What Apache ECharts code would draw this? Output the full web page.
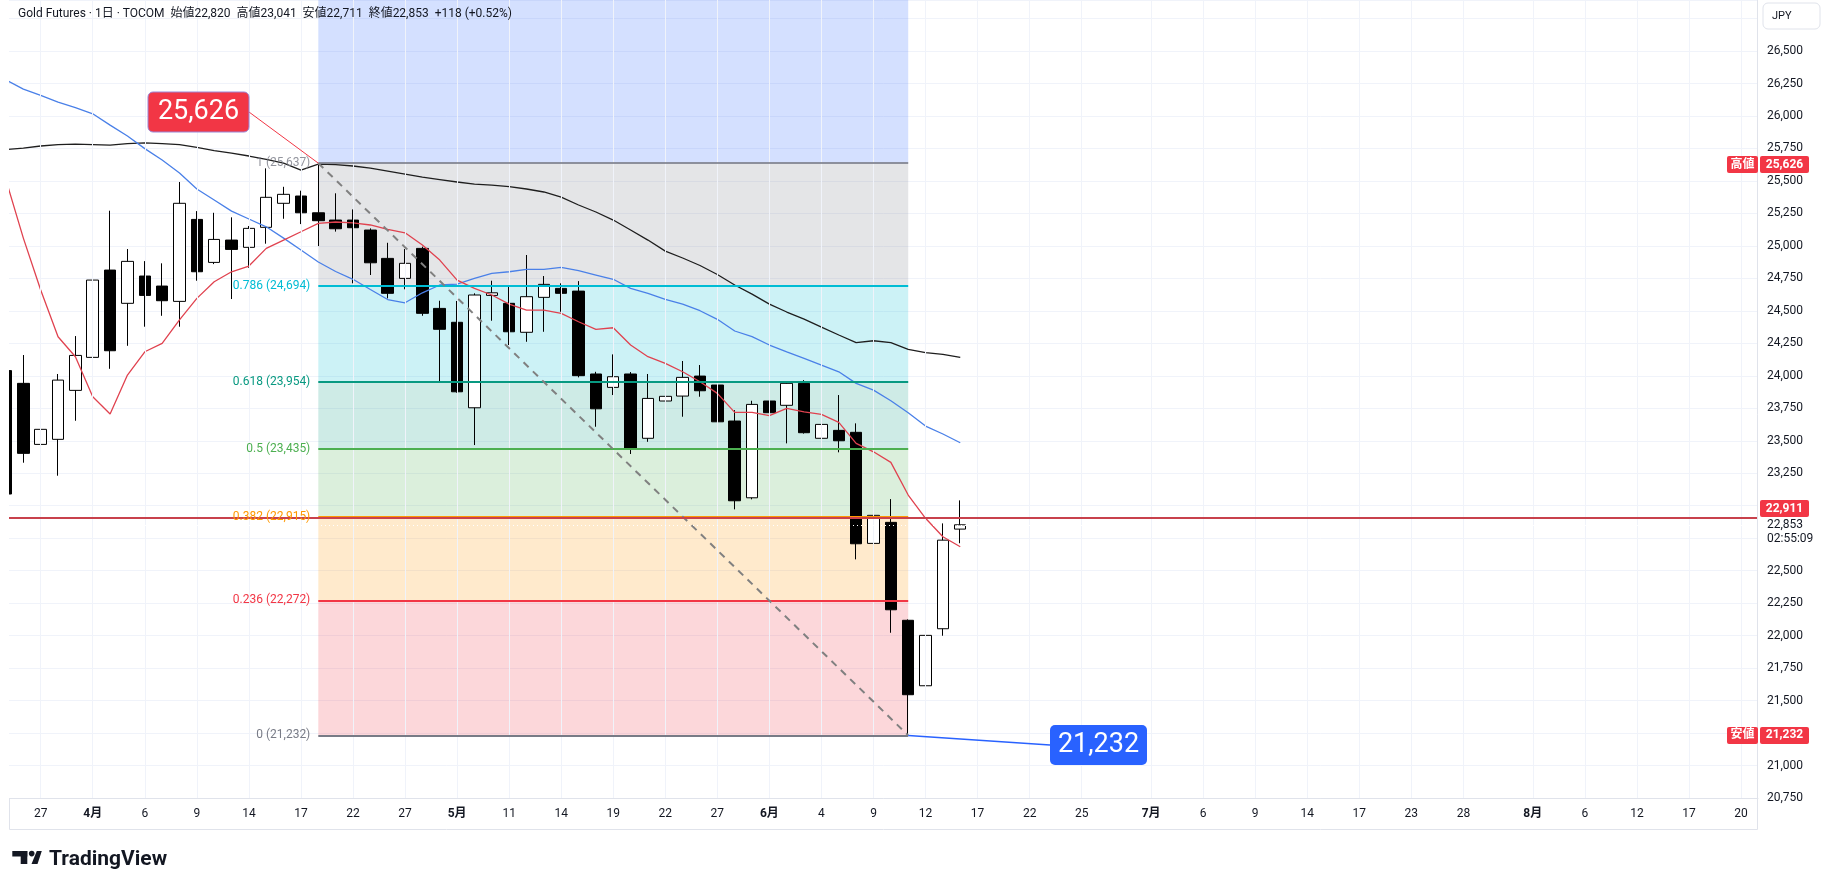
<!DOCTYPE html>
<html>
<head>
<meta charset="utf-8">
<title>Gold Futures</title>
<script src="https://cdn.jsdelivr.net/npm/echarts@6/dist/echarts.min.js"></script>
<style>
  html, body { margin: 0; padding: 0; background: #fff; }
  #main { width: 1828px; height: 889px; }
</style>
</head>
<body>
<div id="main"></div>
<script>
// x axis = trading day index (0 = 3/25)
const tickIdx  = [2, 5, 8, 11, 14, 17, 20, 23, 26, 29, 32, 35, 38, 41, 44, 47, 50, 53, 56, 59, 62, 66, 69, 72, 75, 78, 81, 84, 88, 91, 94, 97, 100];
const tickText = ['27', '4月', '6', '9', '14', '17', '22', '27', '5月', '11', '14', '19', '22', '27', '6月', '4', '9', '12', '17', '22', '25', '7月', '6', '9', '14', '17', '23', '28', '8月', '6', '12', '17', '20'];

const opens  = [24040, 23942, 23472, 23511, 23888, 24142, 24814, 24558, 24768, 24691, 24573, 25204, 24873, 25045, 24989, 25143, 25328, 25384, 25255, 25199, 25199, 25122, 24904, 24750, 24981, 24519, 24412, 23754, 24619, 24558, 24335, 24604, 24673, 24652, 24014, 23911, 24014, 23519, 23806, 23844, 23998, 23929, 23652, 23061, 23806, 23773, 23942, 23519, 23580, 23565, 22710, 22872, 22118, 21614, 22053, 22820];
const highs  = [24060, 24160, 23646, 24014, 24306, 24922, 25271, 24976, 24883, 24866, 25492, 25268, 25255, 25220, 25153, 25597, 25455, 25425, 25626, 25405, 25281, 25135, 25024, 24976, 24994, 24578, 24576, 24635, 24732, 24699, 24930, 24768, 24712, 24729, 24031, 24165, 24029, 24014, 23967, 24114, 24083, 23934, 23736, 23808, 24142, 23960, 23967, 23677, 23852, 23634, 22980, 23051, 22125, 22295, 22864, 23041];
const lows   = [23050, 23331, 23018, 23231, 23654, 23993, 24054, 24231, 24378, 24462, 24378, 24732, 24860, 24591, 24832, 25017, 25209, 25168, 24999, 25110, 24712, 24776, 24596, 24666, 24462, 23954, 23870, 23467, 24424, 24237, 24262, 24339, 24493, 23988, 23608, 23852, 23398, 23492, 23654, 23685, 23839, 23639, 22972, 23049, 23710, 23480, 23555, 23403, 23411, 22587, 22551, 22022, 21232, 21353, 21999, 22711];
const closes = [23090, 23403, 23588, 23967, 24157, 24737, 24193, 24881, 24619, 24578, 25328, 24801, 25050, 24973, 25135, 25374, 25397, 25255, 25194, 25132, 25140, 24870, 24635, 24866, 24481, 24358, 23877, 24622, 24639, 24339, 24609, 24704, 24635, 24001, 23746, 23993, 23438, 23826, 23842, 23988, 23885, 23646, 23038, 23780, 23716, 23942, 23562, 23626, 23500, 22707, 22926, 22199, 21545, 22002, 22735, 22853];

// moving averages (red short / blue mid / black long)
const maRed   = [25507, 25060, 24660, 24301, 24147, 23839, 23706, 24006, 24185, 24250, 24430, 24596, 24724, 24801, 24845, 24981, 25045, 25109, 25174, 25184, 25178, 25161, 25127, 25101, 25007, 24891, 24737, 24673, 24622, 24552, 24506, 24506, 24481, 24416, 24358, 24370, 24237, 24147, 24096, 24031, 23954, 23865, 23719, 23719, 23693, 23750, 23723, 23703, 23642, 23480, 23415, 23334, 23082, 22903, 22761, 22684];
const maBlue  = [26277, 26207, 26159, 26107, 26064, 26017, 25930, 25846, 25749, 25661, 25561, 25438, 25353, 25268, 25207, 25147, 25060, 24968, 24876, 24803, 24743, 24664, 24587, 24562, 24639, 24699, 24706, 24750, 24789, 24801, 24820, 24820, 24835, 24809, 24776, 24743, 24673, 24635, 24589, 24552, 24501, 24435, 24345, 24301, 24237, 24185, 24134, 24083, 24031, 23942, 23890, 23808, 23716, 23613, 23552, 23485];
const maBlack = [25741, 25753, 25769, 25780, 25784, 25780, 25776, 25788, 25793, 25788, 25780, 25759, 25734, 25715, 25692, 25666, 25638, 25584, 25630, 25626, 25615, 25599, 25576, 25553, 25530, 25511, 25492, 25476, 25468, 25457, 25438, 25415, 25376, 25315, 25261, 25199, 25122, 25045, 24960, 24907, 24849, 24780, 24699, 24629, 24552, 24491, 24437, 24375, 24314, 24256, 24270, 24255, 24204, 24178, 24165, 24142];

// fib retracement (drawn from 4/20 to 6/11)
const fibLevels = ['1', '0.786', '0.618', '0.5', '0.382', '0.236', '0'];
const fibPrices = [25637, 24694, 23954, 23435, 22915, 22272, 21232];
const fibLine   = ['#787b86', '#00bcd4', '#089981', '#4caf50', '#ff9800', '#f23645', '#787b86'];
const fibFill   = ['rgba(41,98,255,0.2)', 'rgba(120,123,134,0.2)', 'rgba(0,188,212,0.2)', 'rgba(8,153,129,0.2)',
                   'rgba(76,175,80,0.2)', 'rgba(255,152,0,0.2)', 'rgba(242,54,69,0.2)'];
const fibStart = 18, fibEnd = 52;

const hLinePrice = 22911;
const yMin = 20750, yMax = 26893;
const xMin = 0.173, xMax = 100.98;

const FONT = 'Roboto, "Noto Sans CJK JP", sans-serif';
const fmt = v => Math.round(v).toLocaleString('en-US');

const chart = echarts.init(document.getElementById('main'));

const ohlc = opens.map((o, i) => [i, o, closes[i], lows[i], highs[i]]);
const line = arr => arr.map((v, i) => [i, v]);

// fib fills
const fibAreas = [[
  { xAxis: fibStart, yAxis: yMax, itemStyle: { color: fibFill[0] } },
  { xAxis: fibEnd, yAxis: fibPrices[0] }
]];
for (let k = 0; k < fibPrices.length - 1; k++) {
  fibAreas.push([
    { xAxis: fibStart, yAxis: fibPrices[k], itemStyle: { color: fibFill[k + 1] } },
    { xAxis: fibEnd, yAxis: fibPrices[k + 1] }
  ]);
}
const fibLines = fibPrices.map((p, k) => [
  {
    coord: [fibStart, p],
    lineStyle: { color: fibLine[k], width: 2, type: 'solid', opacity: k === 0 ? 0.8 : 1 },
    label: { show: true, position: 'start', distance: 8, formatter: fibLevels[k] + ' (' + fmt(p) + ')',
             color: fibLine[k], fontSize: 12, fontFamily: FONT, opacity: k === 0 ? 0.8 : 1 }
  },
  { coord: [fibEnd, p] }
]);

const highest = Math.max(...highs);
const lowest = Math.min(...lows);
const lowIdx = lows.indexOf(lowest);

chart.setOption({
  animation: false,
  backgroundColor: '#ffffff',
  grid: { left: 9, right: 70, top: 0, bottom: 91 },
  xAxis: {
    type: 'value', min: xMin, max: xMax,
    axisLine: { show: true, lineStyle: { color: '#e0e3eb' } },
    axisTick: { show: false },
    splitLine: { show: false },
    axisLabel: {
      customValues: tickIdx,
      margin: 10,
      color: '#131722', fontSize: 12, fontFamily: FONT,
      formatter: v => {
        const t = tickText[tickIdx.indexOf(v)] || '';
        return t.indexOf('月') >= 0 ? '{b|' + t + '}' : t;
      },
      rich: { b: { fontWeight: 'bold', fontSize: 12, fontFamily: FONT, color: '#131722' } }
    }
  },
  yAxis: {
    type: 'value', position: 'right', min: yMin, max: yMax, interval: 250,
    axisLine: { show: false },
    axisTick: { show: false },
    splitLine: { lineStyle: { color: '#f0f3fa', width: 1 } },
    axisLabel: {
      margin: 9, color: '#131722', fontSize: 12, fontFamily: FONT,
      formatter: v => (v % 250 !== 0 || [26750, 23000, 22750, 21250].includes(v)) ? '' : fmt(v)
    }
  },
  series: [
    { // vertical grid lines
      type: 'line', data: [], silent: true, z: 0,
      markLine: {
        silent: true, symbol: ['none', 'none'], label: { show: false },
        lineStyle: { color: '#f0f3fa', width: 1, type: 'solid' },
        data: tickIdx.map(i => ({ xAxis: i }))
      }
    },
    { // fib retracement
      type: 'line', data: [], silent: true, z: 1,
      markArea: { silent: true, data: fibAreas },
      markLine: {
        silent: true, symbol: ['none', 'none'],
        data: fibLines.concat([
          [{ coord: [fibStart, fibPrices[0]], lineStyle: { color: '#808080', width: 2, type: [7, 6] }, label: { show: false } },
           { coord: [fibEnd, fibPrices[6]] }],
          { yAxis: hLinePrice, lineStyle: { color: '#c8414c', width: 2, type: 'solid' }, label: { show: false } }
        ])
      }
    },
    {
      name: 'Gold', type: 'candlestick', z: 3, clip: true,
      data: ohlc,
      dimensions: ['x', 'open', 'close', 'lowest', 'highest'],
      encode: { x: 'x', y: ['open', 'close', 'lowest', 'highest'] },
      barWidth: 12,
      itemStyle: { color: '#ffffff', color0: '#000000', borderColor: '#000000', borderColor0: '#000000', borderWidth: 1 }
    },
    { type: 'line', data: line(maBlack), showSymbol: false, symbol: 'none', z: 4, lineStyle: { color: '#1e1e1e', width: 1.3 } },
    { type: 'line', data: line(maBlue), showSymbol: false, symbol: 'none', z: 4, lineStyle: { color: '#4a80e8', width: 1.3 } },
    { type: 'line', data: line(maRed), showSymbol: false, symbol: 'none', z: 4, lineStyle: { color: '#e0424f', width: 1.3 } },
    { // current price dotted line
      type: 'line', data: [], silent: true, z: 5,
      markLine: {
        silent: true, symbol: ['none', 'none'], label: { show: false },
        lineStyle: { color: '#ffffff', width: 1, type: [1, 3] },
        data: [{ yAxis: closes[closes.length - 1] }]
      }
    }
  ]
});

// annotations / price tags
const toPx = (x, y) => chart.convertToPixel({ gridIndex: 0 }, [x, y]);
const yPx = v => chart.convertToPixel({ yAxisIndex: 0 }, v);

const last = closes.length - 1;
const chg = closes[last] - closes[last - 1];
const header = 'Gold Futures · 1日 · TOCOM  始値' + fmt(opens[last]) + '  高値' + fmt(highs[last]) +
  '  安値' + fmt(lows[last]) + '  終値' + fmt(closes[last]) + '  +' + fmt(chg) +
  ' (+' + (chg / closes[last - 1] * 100).toFixed(2) + '%)';

const hiPt = toPx(fibStart, fibPrices[0]);
const loPt = toPx(lowIdx, lowest);
const yHi = yPx(highest), yLo = yPx(lowest), yH = yPx(hLinePrice), yLast = yPx(closes[last]);

function text(x, y, s, fill, font, align) {
  return { type: 'text', z: 100, x: x, y: y,
    style: { text: s, fill: fill, font: font, align: align || 'left', verticalAlign: 'middle' } };
}
function rect(x, y, w, h, fill, r, stroke) {
  return { type: 'rect', z: 99, shape: { x: x, y: y, width: w, height: h, r: r || 0 },
    style: { fill: fill, stroke: stroke || null, lineWidth: stroke ? 1 : 0 } };
}
function tag(yc, label, value) {
  const out = [];
  if (label) {
    out.push(rect(1727, yc - 8.5, 31, 17, '#f23645', 2));
    out.push(text(1742.5, yc, label, '#ffffff', 'bold 12px ' + FONT, 'center'));
  }
  out.push(rect(1760, yc - 8.5, 49, 17, '#f23645', 2));
  out.push(text(1784.5, yc, value, '#ffffff', 'bold 12px ' + FONT, 'center'));
  return out;
}

const g = [
  // left margin: hide the part of the first candle outside the pane
  { type: 'rect', z: 50, shape: { x: 0, y: 0, width: 9, height: 830 }, style: { fill: '#ffffff' } },
  text(18, 14, header, '#131722', '12px ' + FONT),
  rect(1763, 3, 57, 26, '#ffffff', 5, '#e0e3eb'),
  text(1772, 16, 'JPY', '#131722', '11px ' + FONT),
  // high callout
  { type: 'line', z: 98, shape: { x1: 249, y1: 112, x2: hiPt[0], y2: hiPt[1] }, style: { stroke: '#f23645', lineWidth: 1 } },
  rect(148, 92, 101, 40, '#f23645', 5, '#9b86d6'),
  text(198.5, 112.5, fmt(highest), '#ffffff', '27px ' + FONT, 'center'),
  // low callout
  { type: 'line', z: 98, shape: { x1: loPt[0], y1: loPt[1], x2: 1050, y2: 745 }, style: { stroke: '#2962ff', lineWidth: 1.5 } },
  rect(1050, 725, 97, 40, '#2962ff', 5),
  text(1098.5, 745.5, fmt(lowest), '#ffffff', '27px ' + FONT, 'center'),
  // last price texts on axis
  text(1767, yLast, fmt(closes[last]), '#131722', '12px ' + FONT),
  text(1767, yLast + 14, '02:55:09', '#131722', '12px ' + FONT),
  // time axis box
  { type: 'polyline', z: 98, shape: { points: [[9.5, 798], [9.5, 829.5], [1757.5, 829.5], [1757.5, 0]] }, style: { stroke: '#e0e3eb', fill: null, lineWidth: 1 } },
  // TradingView logo
  rect(12.3, 851, 15, 5.5, '#131722'),
  rect(20.7, 851, 6.6, 13, '#131722'),
  { type: 'circle', z: 99, shape: { cx: 31.7, cy: 853.6, r: 2.8 }, style: { fill: '#131722' } },
  { type: 'polygon', z: 99, shape: { points: [[31.5, 864], [36.8, 851], [41.8, 851], [37.5, 864]] }, style: { fill: '#131722' } },
  text(49, 859.5, 'TradingView', '#131722', 'bold 21px ' + FONT)
]
  .concat(tag(yHi, '高値', fmt(highest)))
  .concat(tag(yH - 8.7, null, fmt(hLinePrice)))
  .concat(tag(yLo, '安値', fmt(lowest)));

chart.setOption({ graphic: g });
</script>
</body>
</html>
